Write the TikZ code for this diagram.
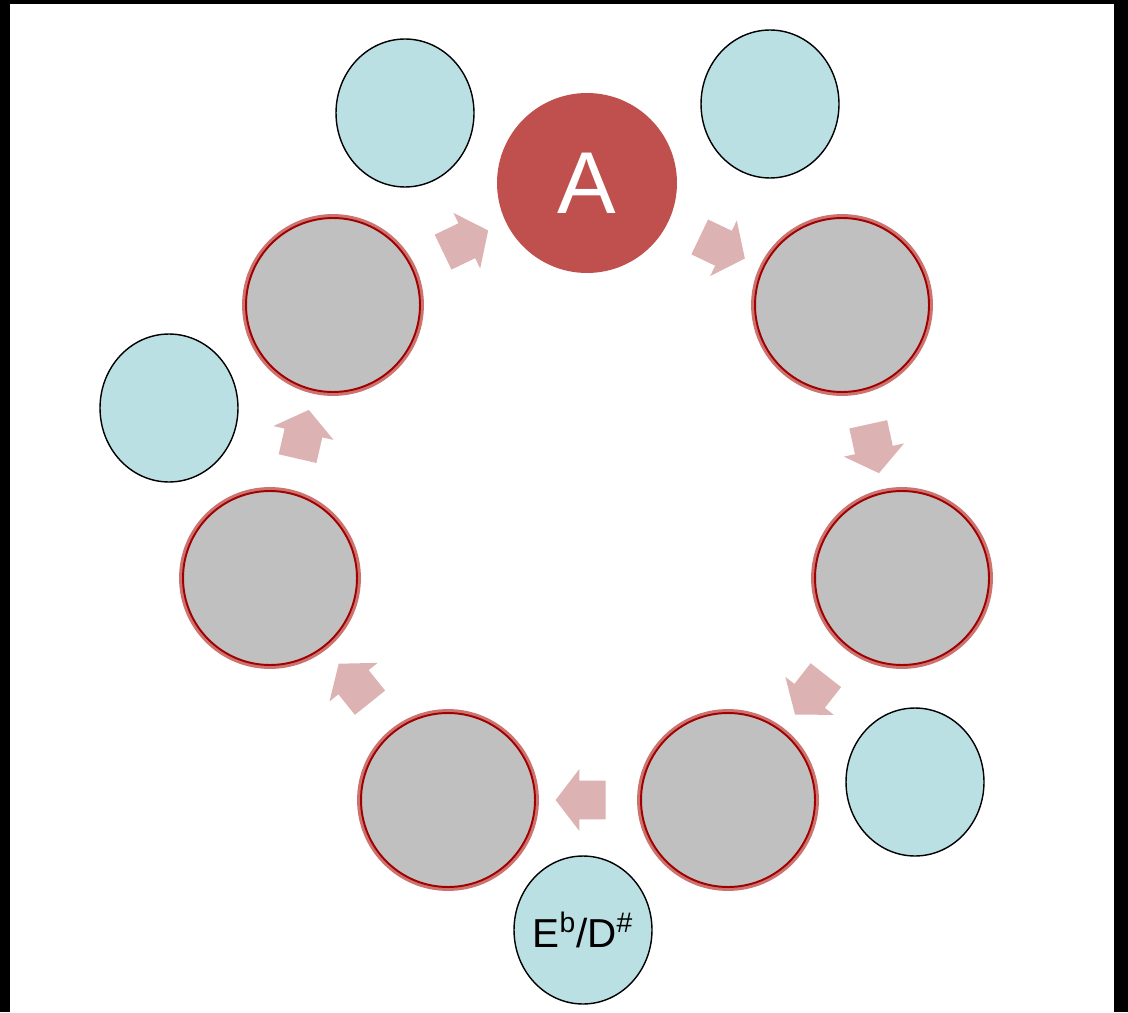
\documentclass[tikz,border=0pt]{standalone}
\usepackage{fontspec}
\setmainfont{Liberation Sans}
\usepackage{tikz}
\usetikzlibrary{shapes.geometric, shapes.arrows}
\definecolor{tonic}{HTML}{C0504D}
\definecolor{grey}{HTML}{C0C0C0}
\definecolor{ring}{HTML}{A00000}
\definecolor{halo}{HTML}{C0504D}
\definecolor{note}{HTML}{BBE0E3}
\definecolor{flow}{HTML}{DDB2B3}
\tikzstyle{tonicnode} = [
  circle, minimum size=3.6cm, inner sep=0pt,
  text centered, fill=tonic, text=white, font=\fontsize{50}{50}\selectfont
]
\tikzstyle{stepnode} = [
  circle, minimum size=3.48cm, inner sep=0pt, fill=grey,
  draw=ring, line width=1.1pt,
  preaction={draw=halo, draw opacity=0.8, line width=4.5pt}
]
\tikzstyle{notenode} = [
  ellipse, minimum width=2.76cm, minimum height=2.96cm, inner sep=0pt,
  text centered, draw=black, line width=0.8pt, fill=note,
  font=\fontsize{23}{23}\selectfont
]
\tikzset{
  flowarrow/.style={
    single arrow, fill=flow, inner xsep=0pt, inner ysep=0.38cm,
    minimum height=1cm, minimum width=1.22cm,
    single arrow head extend=0.23cm, single arrow tip angle=105,
    sloped, allow upside down
  }
}

\begin{document}
\begin{tikzpicture}[x=0.02cm, y=0.02cm]

% ------------------------------------------------
% FONDO
% ------------------------------------------------

\fill[black] (0,0) rectangle (1128,1012);
\fill[white] (10,0) rectangle (1114,1008);

% ------------------------------------------------
% CIRCULO DE NOTAS
% ------------------------------------------------

\node[tonicnode] (n0) at (587,829) {A};

\node[stepnode] (n1) at (842,707) {};
\node[stepnode] (n2) at (902,434) {};
\node[stepnode] (n3) at (728,212) {};
\node[stepnode] (n4) at (448,212) {};
\node[stepnode] (n5) at (270,434) {};
\node[stepnode] (n6) at (333,707) {};

% ------------------------------------------------
% NOTAS EXTERIORES
% ------------------------------------------------

\node[notenode] (n7) at (405,899) {};
\node[notenode] (n8) at (770,908) {};
\node[notenode] (n9) at (169,604) {};
\node[notenode] (n10) at (915,230) {};
\node[notenode] (n11) at (583,82) {\makebox[0pt]{E\textsuperscript{b}/D\textsuperscript{\#}}};

% ------------------------------------------------
% FLECHAS
% ------------------------------------------------

\path (n6) -- node[flowarrow] {} (n0);
\path (n0) -- node[flowarrow] {} (n1);
\path (n1) -- node[flowarrow] {} (n2);
\path (n2) -- node[flowarrow] {} (n3);
\path (n3) -- node[flowarrow] {} (n4);
\path (n4) -- node[flowarrow] {} (n5);
\path (n5) -- node[flowarrow] {} (n6);

\end{tikzpicture}
\end{document}
